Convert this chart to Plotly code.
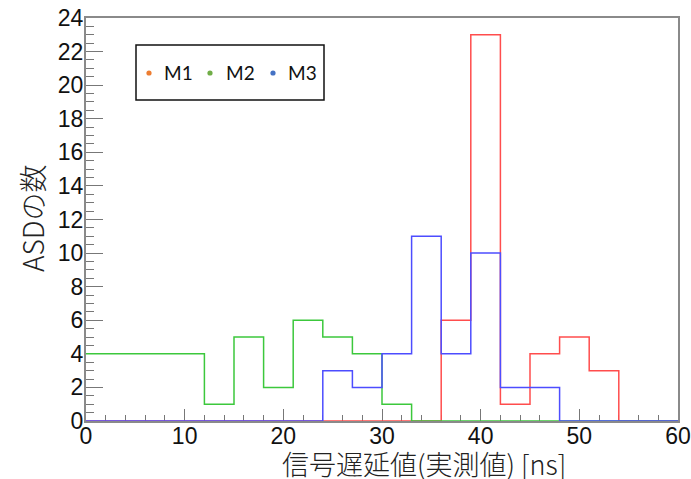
import plotly.graph_objects as go

# ---- data ----
bin_edges = [0, 3, 6, 9, 12, 15, 18, 21, 24, 27, 30, 33, 36, 39, 42, 45, 48, 51, 54, 57, 60]
m1_counts = [0, 0, 0, 0, 0, 0, 0, 0, 0, 0, 0, 0, 6, 23, 1, 4, 5, 3, 0, 0]
m2_counts = [4, 4, 4, 4, 1, 5, 2, 6, 5, 4, 1, 0, 0, 0, 0, 0, 0, 0, 0, 0]
m3_counts = [0, 0, 0, 0, 0, 0, 0, 0, 3, 2, 4, 11, 4, 10, 2, 2, 0, 0, 0, 0]
series_names = ["M1", "M2", "M3"]
line_colors = ["#ff4d4d", "#3cc83c", "#4d4dff"]
legend_colors = ["#ED7D31", "#70AD47", "#4472C4"]
x_title = "信号遅延値(実測値) [ns]"
y_title = "ASDの数"

W, H = 691, 479
L, R, T, B = 86, 678, 18, 421


def px2x(px):
    return (px - L) / (R - L)


def px2y(py):
    return (B - py) / (B - T)


fig = go.Figure()
for name, counts, col in zip(series_names, [m1_counts, m2_counts, m3_counts], line_colors):
    fig.add_trace(go.Scatter(
        x=bin_edges,
        y=counts + [counts[-1]],
        mode="lines",
        line=dict(shape="hv", color=col, width=1.5),
        name=name,
        showlegend=False,
        hoverinfo="skip",
    ))

tickfont = dict(family="Liberation Sans, Arial, sans-serif", size=23, color="#111")
fig.update_layout(
    width=W, height=H,
    margin=dict(l=L, r=W - R, t=T, b=H - B, pad=0, autoexpand=False),
    paper_bgcolor="white", plot_bgcolor="white",
    showlegend=False,
    xaxis=dict(
        range=[0, 60], showgrid=False, zeroline=False, automargin=False,
        showline=True, linecolor="#8a8a8a", linewidth=2, mirror=True,
        ticks="inside", ticklen=12, tickcolor="#777", tickwidth=1.2,
        tickvals=[0, 10, 20, 30, 40, 50, 60], ticklabelstandoff=-7,
        minor=dict(ticks="inside", ticklen=6, dtick=2, tickcolor="#777", tickwidth=1.2),
        tickfont=tickfont, layer="below traces",
    ),
    yaxis=dict(
        range=[0, 24], showgrid=False, zeroline=False, automargin=False,
        showline=True, linecolor="#8a8a8a", linewidth=2, mirror=True,
        ticks="inside", ticklen=17, tickcolor="#777", tickwidth=1.2,
        tickvals=list(range(0, 25, 2)), ticklabelstandoff=-4,
        minor=dict(ticks="inside", ticklen=8, dtick=0.5, tickcolor="#777", tickwidth=1.2),
        tickfont=tickfont, layer="below traces",
    ),
)

annotations = [
    dict(text=x_title, xref="paper", yref="paper", x=px2x(424), y=px2y(463),
         xanchor="center", yanchor="middle", showarrow=False,
         font=dict(family="Noto Sans CJK JP, sans-serif", size=27, color="#222", weight=300)),
    dict(text=y_title, xref="paper", yref="paper", x=px2x(32), y=px2y(218),
         xanchor="center", yanchor="middle", showarrow=False, textangle=-90,
         font=dict(family="Noto Sans CJK JP, sans-serif", size=28, color="#222", weight=300)),
]

# legend box (Excel-style legend)
shapes = [dict(type="rect", xref="paper", yref="paper",
               x0=px2x(136), x1=px2x(324), y0=px2y(100), y1=px2y(45),
               line=dict(color="#111", width=1.5), fillcolor="white", layer="above")]
dot_px = [149, 210, 273]
text_px = [162, 224, 286]
for name, col, dx, tx in zip(series_names, legend_colors, dot_px, text_px):
    shapes.append(dict(type="circle", xref="paper", yref="paper",
                       x0=px2x(dx - 2.6), x1=px2x(dx + 2.6), y0=px2y(73 + 2.6), y1=px2y(73 - 2.6),
                       line=dict(width=0), fillcolor=col, layer="above"))
    annotations.append(dict(text=name, xref="paper", yref="paper", x=px2x(tx), y=px2y(73),
                            xanchor="left", yanchor="middle", showarrow=False,
                            font=dict(family="Lato, Open Sans, sans-serif", size=19, color="#111")))

fig.update_layout(annotations=annotations, shapes=shapes)
fig.write_html("out.html")
